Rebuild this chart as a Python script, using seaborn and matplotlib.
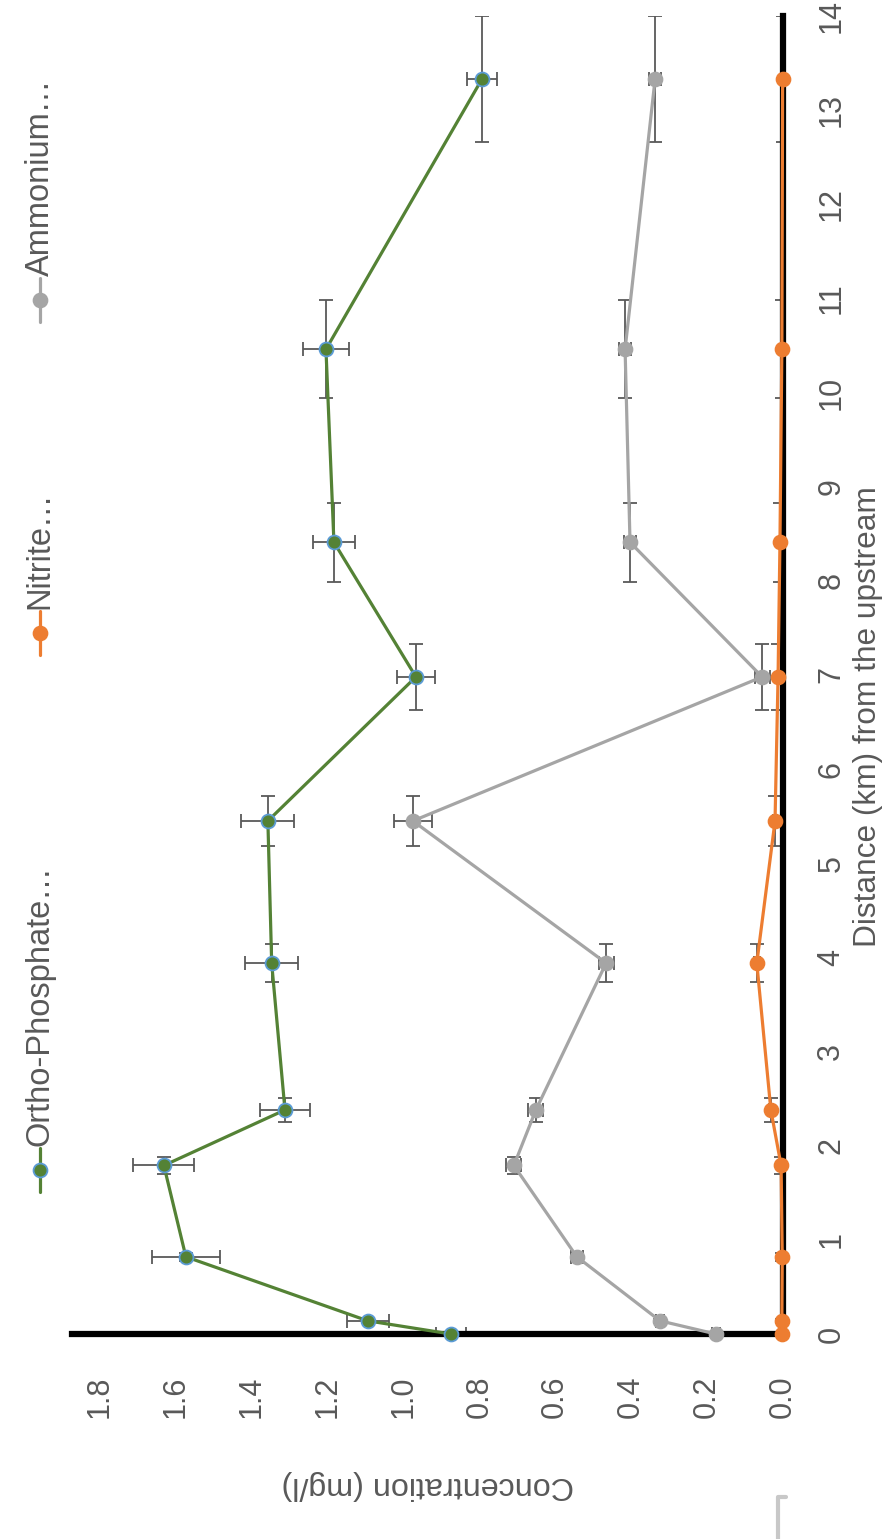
import matplotlib
matplotlib.use("Agg")
import matplotlib.pyplot as plt
import seaborn as sns
from matplotlib.lines import Line2D

# distance along the stream (km) and its error
distance = [0.0, 0.14, 0.82, 1.79, 2.38, 3.94, 5.45, 6.98, 8.41, 10.46, 13.33]
distance_err = [0.01, 0.02, 0.04, 0.09, 0.13, 0.2, 0.27, 0.35, 0.42, 0.52, 0.67]

# concentrations (mg/l)
phosphate = [0.875, 1.094, 1.573, 1.631, 1.312, 1.347, 1.357, 0.967, 1.183, 1.204, 0.793]
phosphate_err = [0.04, 0.055, 0.09, 0.08, 0.065, 0.07, 0.07, 0.05, 0.055, 0.06, 0.04]
nitrite = [0.002, 0.003, 0.002, 0.005, 0.032, 0.069, 0.021, 0.013, 0.008, 0.003, 0.001]
nitrite_err = [0.002, 0.002, 0.002, 0.003, 0.005, 0.008, 0.005, 0.004, 0.003, 0.002, 0.002]
ammonium = [0.177, 0.324, 0.543, 0.709, 0.651, 0.466, 0.975, 0.055, 0.403, 0.416, 0.337]
ammonium_err = [0.01, 0.01, 0.015, 0.02, 0.02, 0.02, 0.05, 0.02, 0.015, 0.015, 0.015]

series_names = ["Ortho-Phosphate…", "Nitrite…", "Ammonium…"]
series_colors = ["#548235", "#ED7D31", "#A5A5A5"]
edge_colors = ["#5B9BD5", "#ED7D31", "#A5A5A5"]
conc_ticks = [0.0, 0.2, 0.4, 0.6, 0.8, 1.0, 1.2, 1.4, 1.6, 1.8]
dist_ticks = list(range(0, 15))

sns.set_theme(style="white")
plt.rcParams["font.family"] = ["Liberation Sans", "DejaVu Sans"]
text_col = "#595959"

fig = plt.figure(figsize=(8.86, 15.39), dpi=100)
W, H = 886, 1539
ax = fig.add_axes([72 / W, 1 - 1334 / H, (783 - 72) / W, (1334 - 16) / H])

values = [phosphate, nitrite, ammonium]
errors = [phosphate_err, nitrite_err, ammonium_err]

# chart is drawn turned on its side: concentration runs right-to-left, distance upwards
for vals, errs, col, ecol in zip(values, errors, series_colors, edge_colors):
    ax.errorbar(vals, distance, xerr=errs, yerr=distance_err, fmt="none",
                ecolor="#595959", elinewidth=1.3, capsize=5, capthick=1.3, zorder=2)
    sns.lineplot(x=vals, y=distance, sort=False, estimator=None, ax=ax,
                 color=col, linewidth=2.3, marker="o", markersize=10,
                 markerfacecolor=col, markeredgecolor=ecol, markeredgewidth=1.3,
                 zorder=4, clip_on=False)

ax.set_xlim(1.873, 0)
ax.set_ylim(0, 14)
ax.set_xticks(conc_ticks)
ax.set_xticklabels([f"{t:.1f}" for t in conc_ticks], rotation=90)
ax.set_yticks(dist_ticks)
ax.set_yticklabels([str(t) for t in dist_ticks], rotation=90, va="center")
ax.yaxis.tick_right()
ax.tick_params(axis="x", length=0, pad=30, labelsize=22, labelcolor=text_col)
ax.tick_params(axis="y", length=0, pad=24, labelsize=22, labelcolor=text_col)
ax.set_xlabel("")
ax.set_ylabel("")

for side in ["top", "left"]:
    ax.spines[side].set_visible(False)
for side in ["right", "bottom"]:
    ax.spines[side].set_color("black")
    ax.spines[side].set_linewidth(4.5)
    ax.spines[side].set_zorder(3)

# axis titles
fig.text(868 / W, 1 - 717 / H, "Distance (km) from the upstream", rotation=90,
         ha="center", va="center", fontsize=22.8, color=text_col)
fig.text(428 / W, 1 - 1485 / H, "Concentration (mg/l)", rotation=180,
         ha="center", va="center", fontsize=23.2, color=text_col)

# legend on the left, written sideways
legend_pos = [1170, 633, 300]
for name, col, ecol, ym in zip(series_names, series_colors, edge_colors, legend_pos):
    fig.add_artist(Line2D([40 / W, 40 / W], [1 - (ym + 22) / H, 1 - (ym - 22) / H],
                          color=col, linewidth=2.3))
    fig.add_artist(Line2D([40 / W], [1 - ym / H], marker="o", markersize=10,
                          markerfacecolor=col, markeredgecolor=ecol,
                          markeredgewidth=1.3, linestyle="none"))
    fig.text(40 / W, 1 - (ym - 24) / H, name, rotation=90, ha="center", va="bottom",
             fontsize=23.5, color=text_col)

# small grey bracket in the lower right corner
fig.add_artist(Line2D([778 / W, 778 / W, 786 / W], [0, 1 - 1497 / H, 1 - 1497 / H],
                      color="#C8C8C8", linewidth=3))

fig.savefig("out.png", dpi=100)
